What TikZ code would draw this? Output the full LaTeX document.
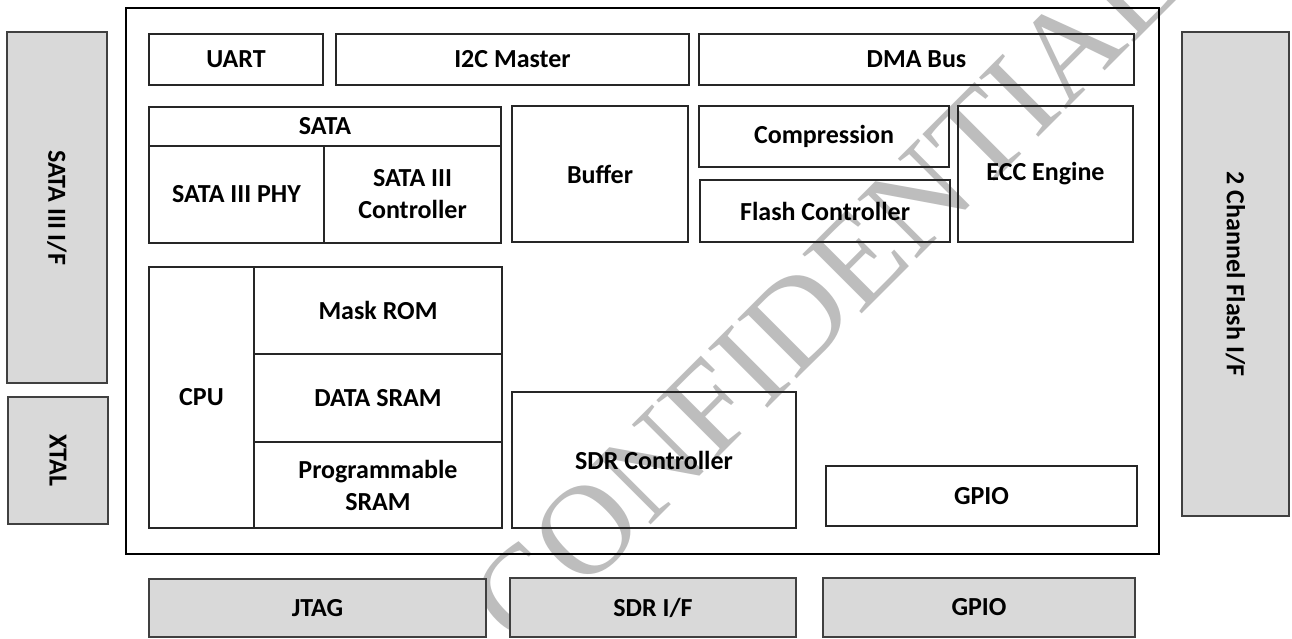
\documentclass[tikz,border=0pt]{standalone}
\usepackage{fontspec}
\setmainfont{Carlito}
\newfontfamily\wmfont{Liberation Serif}
\definecolor{boxgray}{HTML}{D9D9D9}
\definecolor{edgegray}{HTML}{404040}
\definecolor{wmgray}{HTML}{BDBDBD}
\begin{document}
\begin{tikzpicture}[x=1pt,y=-1pt,
  blk/.style={draw=black!85, line width=1.1pt, rectangle, inner sep=0pt, outer sep=0pt, align=center, font=\bfseries\fontsize{26}{32}\selectfont},
  gbox/.style={blk, fill=boxgray, draw=edgegray},
  vtext/.style={rotate=-90, font=\bfseries\fontsize{26}{32}\selectfont},
  outerbox/.style={draw=black, line width=2pt, rectangle, inner sep=0pt, outer sep=0pt},
  wm/.style={text=wmgray, font=\wmfont\fontsize{128}{128}\selectfont, inner sep=0pt, rotate=45}]
\useasboundingbox (0,0) rectangle (1292,639);
\fill[white] (0,0) rectangle (1292,639);
% watermark (diagonal text)
\node[wm] (wmark) at (825,292) {CONFIDENTIAL};
% outer chip boundary
\node[outerbox, minimum width=1033pt, minimum height=546pt] (chip) at (642.5,281) {};
% external interfaces (gray)
\node[gbox, minimum width=100pt, minimum height=351pt] (satai) at (57,207.5) {};
\node[vtext] (sataitxt) at (satai.center) {SATA III I/F};
\node[gbox, minimum width=100pt, minimum height=127pt] (xtal) at (58,460.5) {};
\node[vtext] (xtaltxt) at (xtal.center) {XTAL};
\node[gbox, minimum width=107pt, minimum height=484pt] (flashif) at (1235.5,274) {};
\node[vtext] (flashiftxt) at (flashif.center) {2 Channel Flash I/F};
\node[gbox, minimum width=337pt, minimum height=58pt] (jtag) at (317.5,608) {JTAG};
\node[gbox, minimum width=286pt, minimum height=59pt] (sdrif) at (653,607.5) {SDR I/F};
\node[gbox, minimum width=312pt, minimum height=59pt] (gpioout) at (979,607.5) {GPIO};
% internal blocks
\node[blk, minimum width=174pt, minimum height=51pt] (uart) at (236,59.5) {UART};
\node[blk, minimum width=353pt, minimum height=51pt] (i2c) at (512.5,59.5) {I2C Master};
\node[blk, minimum width=435pt, minimum height=51pt] (dma) at (916.5,59.5) {DMA Bus};
\node[blk, minimum width=352pt, minimum height=39pt] (sata) at (325,126.5) {SATA};
\node[blk, minimum width=175pt, minimum height=97pt] (phy) at (236.5,194.5) {SATA III PHY};
\node[blk, minimum width=177pt, minimum height=97pt] (satactl) at (412.5,194.5) {SATA III\\Controller};
\node[blk, minimum width=176pt, minimum height=136pt] (buffer) at (600,174) {Buffer};
\node[blk, minimum width=250pt, minimum height=61pt] (comp) at (824,136.5) {Compression};
\node[blk, minimum width=250pt, minimum height=62pt] (flashctl) at (825,211) {Flash Controller};
\node[blk, minimum width=175pt, minimum height=136pt] (ecc) at (1045.5,174) {ECC Engine};
\node[blk, minimum width=105pt, minimum height=261pt] (cpu) at (201.5,397.5) {CPU};
\node[blk, minimum width=248pt, minimum height=87pt] (mask) at (378,310.5) {Mask ROM};
\node[blk, minimum width=248pt, minimum height=88pt] (dsram) at (378,398) {DATA SRAM};
\node[blk, minimum width=248pt, minimum height=86pt] (psram) at (378,485) {Programmable\\SRAM};
\node[blk, minimum width=284pt, minimum height=136pt] (sdrc) at (654,460) {SDR Controller};
\node[blk, minimum width=311pt, minimum height=60pt] (gpioin) at (981.5,496) {GPIO};
\end{tikzpicture}
\end{document}
